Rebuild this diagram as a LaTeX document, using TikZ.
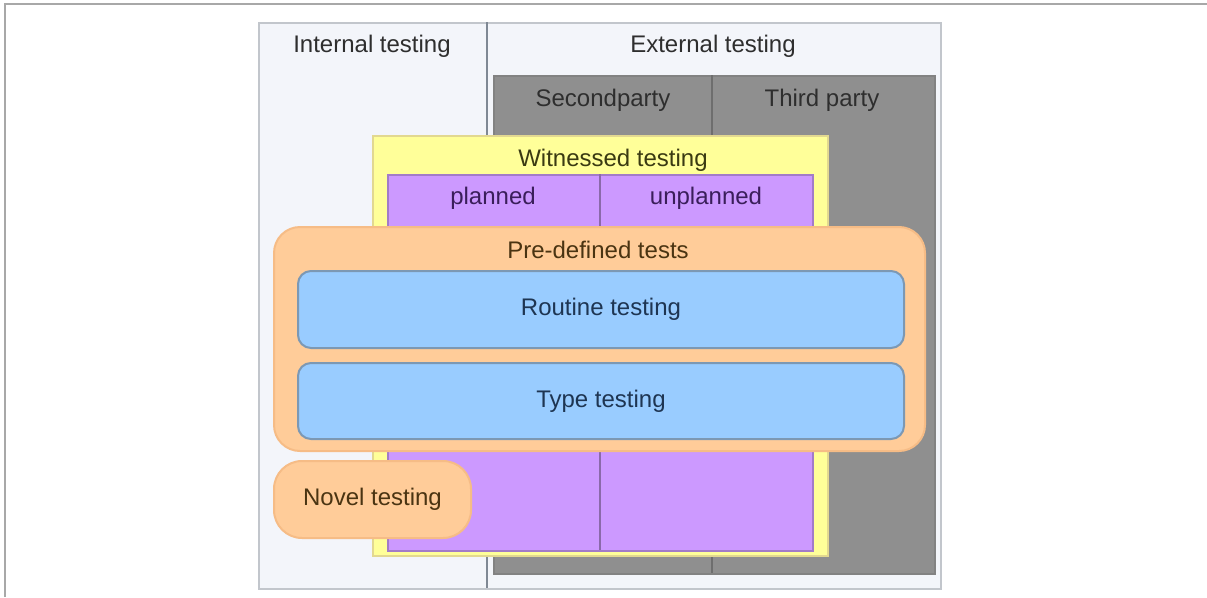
\documentclass[tikz,border=0pt]{standalone}
\usepackage{fontspec}
\setmainfont{Liberation Sans}
\begin{document}
\begin{tikzpicture}[x=1pt,y=-1pt,
  region/.style={rectangle, inner sep=0pt, anchor=north west, line width=1.5pt},
  label/.style={inner sep=0pt, font=\fontsize{24}{26}\selectfont, text=txtgray},
  pill/.style={rectangle, rounded corners=#1, inner sep=0pt, anchor=north west, line width=2pt},
  divider/.style={line width=1.2pt}
]
\definecolor{framegray}{HTML}{A8A8A8}
\definecolor{panelfill}{HTML}{F3F5FA}
\definecolor{panelline}{HTML}{C2C6CC}
\definecolor{splitline}{HTML}{7F8894}
\definecolor{partyfill}{HTML}{8F8F8F}
\definecolor{partyline}{HTML}{828282}
\definecolor{witfill}{HTML}{FFFF99}
\definecolor{witline}{HTML}{E2D890}
\definecolor{planfill}{HTML}{CC99FF}
\definecolor{planline}{HTML}{A27CC8}
\definecolor{orangefill}{HTML}{FFCC99}
\definecolor{orangeline}{HTML}{F6BC86}
\definecolor{bluefill}{HTML}{99CCFF}
\definecolor{blueline}{HTML}{7C98B4}
\definecolor{txtgray}{HTML}{2E2E2E}
\definecolor{txtbrown}{HTML}{4A3412}
\definecolor{txtblue}{HTML}{1E3552}
\definecolor{txtolive}{HTML}{3A3A12}
\definecolor{txtpurple}{HTML}{3A1E5A}

\useasboundingbox (0,0) rectangle (1207,597);
\fill[white] (0,0) rectangle (1207,597);

% page frame
\coordinate (fTL) at (5,4);
\coordinate (fTR) at (1207,4);
\coordinate (fBL) at (5,597);
\draw[framegray, line width=1.2pt] (fBL) -- (fTL) -- (fTR);

% main panel: internal / external
\node[region, draw=panelline, fill=panelfill, minimum width=682, minimum height=566] (panel) at (258,22) {};
\coordinate (splitT) at (487,22);
\coordinate (splitB) at (487,588);
\draw[splitline, divider] (splitT) -- (splitB);
\node[label] (internal) at (372,46) {Internal testing};
\node[label] (external) at (713,46) {External testing};

% second / third party
\node[region, draw=partyline, fill=partyfill, minimum width=441, minimum height=498] (party) at (493,75) {};
\coordinate (partyT) at (712,75);
\coordinate (partyB) at (712,573);
\draw[partyline!85!black, divider] (partyT) -- (partyB);
\node[label] (second) at (603,100) {Secondparty};
\node[label] (third) at (822,100) {Third party};

% witnessed testing
\node[region, draw=witline, fill=witfill, minimum width=455, minimum height=420] (witnessed) at (372,135) {};
\node[label, text=txtolive] (wittext) at (613,160) {Witnessed testing};

% planned / unplanned
\node[region, draw=planline, fill=planfill, minimum width=425, minimum height=376] (plan) at (387,174) {};
\coordinate (planT) at (600,174);
\coordinate (planB) at (600,550);
\draw[planline!85!black, divider] (planT) -- (planB);
\node[label, text=txtpurple] (planned) at (493,198) {planned};
\node[label, text=txtpurple] (unplanned) at (706,198) {unplanned};

% pre-defined tests
\node[pill=26pt, draw=orangeline, fill=orangefill, minimum width=651, minimum height=224] (predef) at (273,226) {};
\node[label, text=txtbrown] (predeftext) at (598,250) {Pre-defined tests};

\node[pill=13pt, draw=blueline, fill=bluefill, minimum width=606, minimum height=77] (routine) at (297,270) {};
\node[label, text=txtblue] at (routine.center) {Routine testing};

\node[pill=13pt, draw=blueline, fill=bluefill, minimum width=606, minimum height=76] (type) at (297,362) {};
\node[label, text=txtblue] at (type.center) {Type testing};

% novel testing
\node[pill=28pt, draw=orangeline, fill=orangefill, minimum width=197, minimum height=77] (novel) at (273,460) {};
\node[label, text=txtbrown] at (novel.center) {Novel testing};
\end{tikzpicture}
\end{document}
